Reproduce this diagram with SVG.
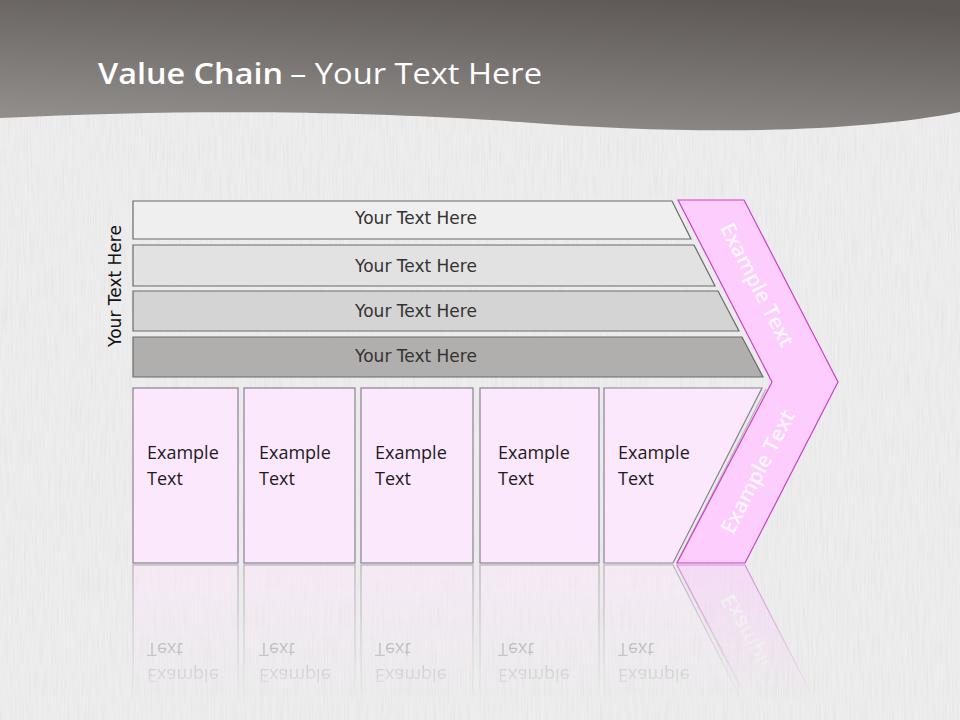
<svg xmlns="http://www.w3.org/2000/svg" xmlns:xlink="http://www.w3.org/1999/xlink" width="960" height="720" viewBox="0 0 960 720">
<defs>
<linearGradient id="hdr" x1="0.75" y1="0" x2="0.35" y2="1">
<stop offset="0" stop-color="#5d5856"/>
<stop offset="1" stop-color="#918d8b"/>
</linearGradient>
<filter id="tex" x="0" y="0" width="1" height="1">
<feTurbulence type="fractalNoise" baseFrequency="0.7 0.03" numOctaves="2" seed="3"/>
<feColorMatrix type="matrix" values="0 0 0 0 0.6 0 0 0 0 0.6 0 0 0 0 0.6 0.5 0 0 0 -0.21"/>
</filter>
<linearGradient id="fadeG" x1="0" y1="564" x2="0" y2="700" gradientUnits="userSpaceOnUse">
<stop offset="0" stop-color="#fff" stop-opacity="0.55"/>
<stop offset="1" stop-color="#fff" stop-opacity="0"/>
</linearGradient>
<mask id="fade" maskUnits="userSpaceOnUse" x="0" y="560" width="960" height="160">
<rect x="0" y="560" width="960" height="160" fill="url(#fadeG)"/>
</mask>
<style>
.bar{stroke:#6a6a6a;stroke-width:1.2}
.bt{font-family:"DejaVu Sans",Verdana,sans-serif;font-size:17px;fill:#333;text-anchor:middle}
.box{fill:#fce8fc;stroke:#8a8090;stroke-width:1.2}
.et{font-family:"Open Sans","Liberation Sans",sans-serif;font-size:18px;fill:#1e1a1e}
.chev{fill:#fdcdfd;stroke:#cc3fcc;stroke-width:1.2}
.ct{font-family:"Open Sans","Liberation Sans",sans-serif;font-size:21px;font-weight:600;fill:#ffffff;fill-opacity:0.85;text-anchor:middle}
</style>
</defs>
<rect x="0" y="0" width="960" height="720" fill="#ededed"/>
<rect x="0" y="0" width="960" height="720" filter="url(#tex)"/>
<path d="M0,0 H960 V112 C860,132 700,136 520,122 C380,112 200,108 0,118 Z" fill="url(#hdr)"/>
<text x="98" y="84" font-family="Open Sans,Liberation Sans,sans-serif" font-size="29" fill="#ffffff"><tspan font-weight="600" textLength="185" lengthAdjust="spacingAndGlyphs">Value Chain</tspan><tspan x="290" textLength="252" lengthAdjust="spacingAndGlyphs">– Your Text Here</tspan></text>

<g id="side-label">
<text class="bt" transform="translate(121,286) rotate(-90)" style="fill:#111">Your Text Here</text>
</g>

<g id="rows">
<g id="row1"><polygon class="bar" points="133,201 672,201 691,239 133,239" fill="#f0eff0"/><text class="bt" x="416" y="224">Your Text Here</text></g>
<g id="row2"><polygon class="bar" points="133,245 694,245 715,286 133,286" fill="#e3e2e3"/><text class="bt" x="416" y="272">Your Text Here</text></g>
<g id="row3"><polygon class="bar" points="133,291 718,291 739,331 133,331" fill="#d5d4d4"/><text class="bt" x="416" y="317">Your Text Here</text></g>
<g id="row4"><polygon class="bar" points="133,337 742,337 763,377 133,377" fill="#b1afae"/><text class="bt" x="416" y="362">Your Text Here</text></g>
</g>

<g id="lower">
<g id="box1"><rect class="box" x="133" y="388" width="105" height="175"/><text class="et" x="147" y="459">Example</text><text class="et" x="147" y="485">Text</text></g>
<g id="box2"><rect class="box" x="244" y="388" width="111" height="175"/><text class="et" x="259" y="459">Example</text><text class="et" x="259" y="485">Text</text></g>
<g id="box3"><rect class="box" x="361" y="388" width="112" height="175"/><text class="et" x="375" y="459">Example</text><text class="et" x="375" y="485">Text</text></g>
<g id="box4"><rect class="box" x="480" y="388" width="119" height="175"/><text class="et" x="498" y="459">Example</text><text class="et" x="498" y="485">Text</text></g>
<g id="box5"><polygon class="box" points="604,388 762,388 673,563 604,563"/><line x1="766" y1="389" x2="677" y2="563" stroke="#bdbdbd" stroke-width="1.5"/><text class="et" x="618" y="459">Example</text><text class="et" x="618" y="485">Text</text></g>
<g id="chevron"><polygon class="chev" points="678,200 744,200 838,382 745,563 677,563 772,382"/>
<text class="ct" transform="translate(757,285) rotate(62.7)" dy="7">Example Text</text>
<text class="ct" transform="translate(758,472) rotate(-62.7)" dy="7">Example Text</text></g>
</g>

<g id="reflection" mask="url(#fade)">
<use xlink:href="#lower" transform="translate(0,1128) scale(1,-1)"/>
</g>
</svg>
